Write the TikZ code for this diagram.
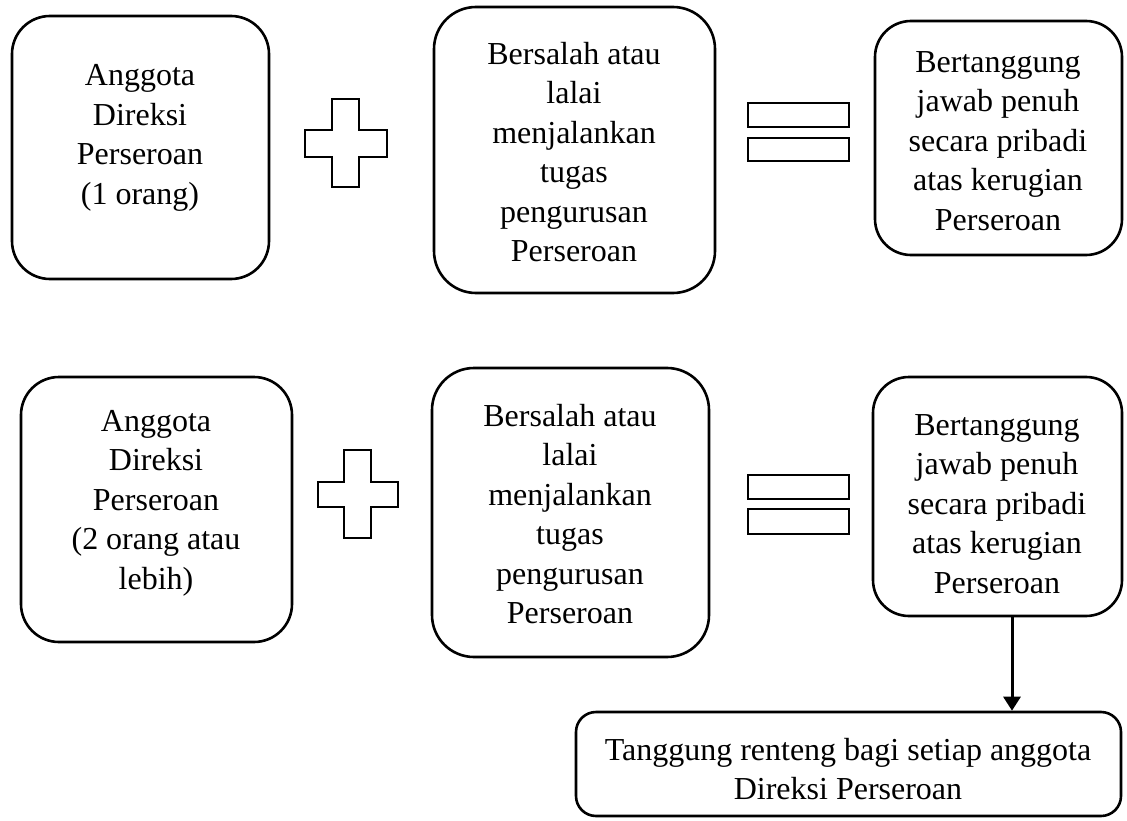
\documentclass[tikz,border=0pt]{standalone}
\usepackage{fontspec}
\setmainfont{Liberation Serif}
\usetikzlibrary{arrows.meta}
\begin{document}
\begin{tikzpicture}[x=1pt,y=-1pt,
  box/.style={draw, line width=2.6pt, rounded corners=#1, inner sep=0pt, fill=white},
  box/.default=38pt,
  txt/.style={align=center, inner sep=0pt,
    font=\fontsize{32}{39.5}\selectfont},
  sign/.style={draw, line width=2.6pt, line join=miter},
  link/.style={line width=3pt, -{Triangle[length=14pt,width=17pt]}}]
\useasboundingbox (0,0) rectangle (1127,821);

% ---------- first row: one director ----------
\node[box, minimum width=257pt, minimum height=263pt] (a1) at (140.5,147.5) {};
\node[txt] (a1t) at (140,138) {Anggota\\Direksi\\Perseroan\\(1 orang)};

\node[box=42pt, minimum width=281pt, minimum height=286pt] (b1) at (574.5,150) {};
\node[txt] (b1t) at (574,152) {Bersalah atau\\lalai\\menjalankan\\tugas\\pengurusan\\Perseroan};

\node[box=36pt, minimum width=247pt, minimum height=234pt] (c1) at (998.5,138) {};
\node[txt] (c1t) at (998,141) {Bertanggung\\jawab penuh\\secara pribadi\\atas kerugian\\Perseroan};

% plus sign
\draw[sign] (332,99) -- (359,99) -- (359,130) -- (387,130) -- (387,157)
  -- (359,157) -- (359,187) -- (332,187) -- (332,157) -- (305,157)
  -- (305,130) -- (332,130) -- cycle;
% equals sign
\draw[sign] (748,103) rectangle (849,127);
\draw[sign] (748,138) rectangle (849,161);

% ---------- second row: two or more directors ----------
\node[box, minimum width=271pt, minimum height=265pt] (a2) at (156.5,509.5) {};
\node[txt] (a2t) at (156,503) {Anggota\\Direksi\\Perseroan\\(2 orang atau\\lebih)};

\node[box=42pt, minimum width=277pt, minimum height=289pt] (b2) at (570.5,512.5) {};
\node[txt] (b2t) at (570,514) {Bersalah atau\\lalai\\menjalankan\\tugas\\pengurusan\\Perseroan};

\node[box=36pt, minimum width=249pt, minimum height=239pt] (c2) at (997.5,496.5) {};
\node[txt] (c2t) at (997,504) {Bertanggung\\jawab penuh\\secara pribadi\\atas kerugian\\Perseroan};

% plus sign
\draw[sign] (344,450) -- (371,450) -- (371,482) -- (398,482) -- (398,507)
  -- (371,507) -- (371,538) -- (344,538) -- (344,507) -- (318,507)
  -- (318,482) -- (344,482) -- cycle;
% equals sign
\draw[sign] (748,475) rectangle (849,499);
\draw[sign] (748,509) rectangle (849,534);

% ---------- joint liability ----------
\node[box=20pt, minimum width=545pt, minimum height=104pt] (d) at (848.5,764) {};
\node[txt] (dt) at (848,769) {Tanggung renteng bagi setiap anggota\\Direksi Perseroan};

\coordinate (drop) at (1012,0);
\draw[link] (c2.south -| drop) -- (d.north -| drop);
\end{tikzpicture}
\end{document}
